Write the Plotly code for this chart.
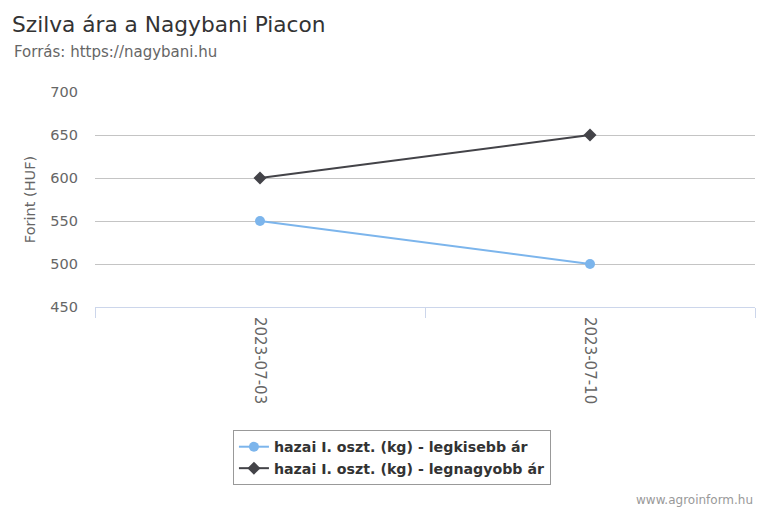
import plotly.graph_objects as go

categories = ["2023-07-03", "2023-07-10"]
min_price = [550, 500]
max_price = [600, 650]
series_names = ["hazai I. oszt. (kg) - legkisebb ár", "hazai I. oszt. (kg) - legnagyobb ár"]

FONT = "DejaVu Sans"

fig = go.Figure()
fig.add_trace(go.Scatter(x=categories, y=min_price, name=series_names[0], mode="lines+markers",
                         line=dict(color="#7cb5ec", width=2),
                         marker=dict(symbol="circle", size=10, color="#7cb5ec")))
fig.add_trace(go.Scatter(x=categories, y=max_price, name=series_names[1], mode="lines+markers",
                         line=dict(color="#434348", width=2),
                         marker=dict(symbol="diamond", size=10, color="#434348")))

# page body has an 8px margin: figure is drawn at (8,8) in the window
fig.update_layout(
    width=760, height=504,
    margin=dict(l=87, r=13, t=84, b=205, autoexpand=False),
    paper_bgcolor="white", plot_bgcolor="white",
    font=dict(family=FONT, color="#666666", size=13),
    title=dict(text="Szilva ára a Nagybani Piacon", x=4 / 760, xanchor="left", y=1 - 16 / 504,
               yanchor="middle", font=dict(family=FONT, size=21.7, color="#333333")),
    showlegend=True,
    legend=dict(x=0.209, y=-0.572, xanchor="left", yanchor="top",
                bordercolor="#999999", borderwidth=1, bgcolor="white", itemwidth=30,
                font=dict(family=FONT, size=14.2, color="#333333", weight="bold")),
    xaxis=dict(type="category", range=[-0.5, 1.5], tickson="boundaries", ticks="outside",
               ticklen=10, tickcolor="#ccd6eb", showline=True, linecolor="#ccd6eb", linewidth=1,
               showgrid=False, tickangle=90, tickfont=dict(size=15, color="#666666"),
               ticklabelstandoff=6, zeroline=False),
    yaxis=dict(range=[450, 700], dtick=50, showgrid=True, gridcolor="#c4c4c4", gridwidth=1,
               zeroline=False, showline=False, tickfont=dict(size=14.5, color="#666666"),
               ticklabelstandoff=16,
               title=dict(text="Forint (HUF)", font=dict(size=14.5, color="#666666"), standoff=11)),
    annotations=[
        dict(text="Forrás: https://nagybani.hu", xref="paper", yref="paper", x=-83 / 660, y=255 / 215,
             xanchor="left", yanchor="middle", showarrow=False,
             font=dict(family=FONT, size=15, color="#666666")),
        dict(text="www.agroinform.hu", xref="paper", yref="paper", x=1.0, y=-193 / 215,
             xanchor="right", yanchor="middle", showarrow=False,
             font=dict(family=FONT, size=12, color="#999999")),
    ],
)

fig.write_html("out.html")
